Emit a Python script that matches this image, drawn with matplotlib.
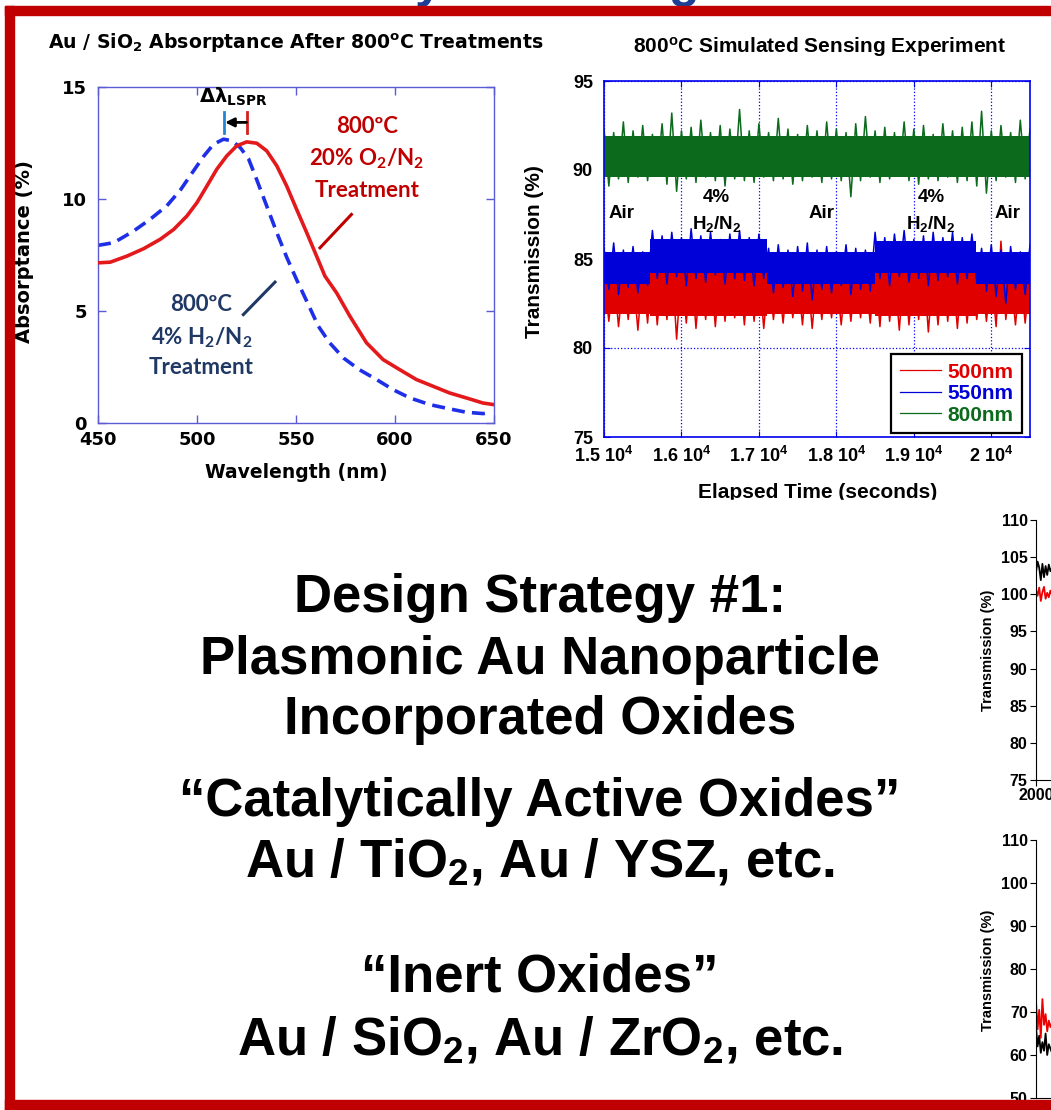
import numpy as np
import matplotlib
matplotlib.use('Agg')
import matplotlib.pyplot as plt
from matplotlib import font_manager
from matplotlib.patches import Rectangle

plt.rcParams['mathtext.default'] = 'regular'

W, H = 1051, 1110

# Au / SiO2 absorptance spectra after 800C treatments
wl_o2 = [450, 456.2, 464.6, 473, 481.4, 488.2, 494.9, 500, 505, 510, 515, 520, 525.1, 530.2,
         535.2, 540.3, 545.3, 550.3, 555.4, 560.4, 564.6, 570.5, 577.2, 585.6, 594, 602.4,
         610.8, 619.2, 627.6, 636, 644.5, 650]
abs_o2 = [7.15, 7.18, 7.45, 7.78, 8.2, 8.64, 9.24, 9.84, 10.58, 11.33, 11.92, 12.37, 12.55, 12.49,
          12.15, 11.48, 10.58, 9.54, 8.5, 7.45, 6.56, 5.81, 4.77, 3.58, 2.83, 2.38,
          1.94, 1.64, 1.34, 1.12, 0.89, 0.82]
wl_h2 = [450, 458, 468, 476.4, 484.8, 491.6, 498.2, 503.3, 508.3, 513.4, 517.6, 521.8, 526, 530,
         535.2, 540.3, 545.3, 550.3, 555.4, 561.3, 567, 574, 582, 590.7, 599, 607.5, 617.6,
         627.6, 636, 644.5, 648.7]
abs_h2 = [7.93, 8.05, 8.57, 9.1, 9.7, 10.4, 11.25, 11.9, 12.44, 12.67, 12.6, 12.3, 11.8, 10.9,
          9.69, 8.5, 7.4, 6.4, 5.44, 4.32, 3.58, 2.9, 2.38, 1.94, 1.49, 1.12, 0.82,
          0.63, 0.48, 0.42, 0.48]
wl_ticks = [450, 500, 550, 600, 650]
abs_ticks = [0, 5, 10, 15]

# 800C simulated sensing run (transmission %), readings every 125 s from 15000 s
seg_edges = [15000, 15600, 17100, 18500, 19800, 20500]
green_lo = [89.6, 89.6, 89.6, 89.6, 89.6]
green_hi = [91.9, 91.9, 91.9, 91.9, 91.9]
blue_lo = [83.6, 84.2, 83.6, 84.2, 83.6]
blue_hi = [85.4, 86.1, 85.4, 86.0, 85.4]
red_lo = [81.9, 81.8, 81.9, 81.8, 81.9]
red_hi = [83.8, 84.2, 83.8, 84.2, 83.8]

green_peak = [92.3, 92.1, 92.7, 92.2, 92.5, 92.0, 92.6, 93.2, 92.2, 92.4,
              92.8, 92.1, 92.5, 92.3, 93.4, 92.2, 92.6, 92.1, 92.9, 92.3,
              92.0, 92.5, 92.2, 92.7, 92.3, 92.1, 92.6, 93.0, 92.2, 92.4,
              92.1, 92.7, 92.3, 92.5, 92.0, 92.6, 92.2, 92.4, 92.7, 93.3,
              92.2, 92.5, 92.1, 92.8, 92.3]
green_trough = [89.1, 89.5, 89.3, 89.6, 89.4, 89.7, 89.2, 88.8, 89.5, 89.3,
                89.6, 89.4, 89.1, 89.5, 89.4, 89.3, 89.6, 89.4, 89.5, 89.2,
                89.4, 89.6, 89.3, 89.5, 89.4, 88.5, 89.4, 89.6, 89.3, 89.5,
                89.7, 89.4, 89.2, 89.5, 89.4, 89.6, 89.3, 89.4, 89.1, 88.7,
                89.4, 89.6, 89.3, 89.5, 88.5]
blue_peak = [85.6, 85.9, 85.5, 85.7, 85.4,
             86.6, 86.3, 86.5, 86.2, 86.7, 86.3, 86.5, 86.1, 86.4, 86.6, 86.2, 86.4,
             85.6, 85.8, 85.5, 85.7, 85.9, 85.5, 85.7, 85.4, 85.8, 85.6, 85.5,
             86.5, 86.2, 86.4, 86.6, 86.1, 86.3, 86.5, 86.2, 86.5, 86.2, 86.4,
             85.6, 85.8, 85.5, 85.7, 85.4, 85.8]
blue_trough = [83.3, 83.0, 83.4, 83.1, 83.5,
               83.9, 83.6, 84.0, 83.5, 83.9, 83.7, 84.1, 83.6, 83.9, 83.8, 83.5, 83.9,
               83.1, 83.4, 82.9, 83.2, 82.7, 83.3, 83.1, 83.5, 83.0, 83.3, 83.2,
               83.9, 83.5, 84.0, 83.7, 83.9, 83.5, 83.8, 84.0, 83.6, 83.9, 83.7,
               83.2, 82.9, 82.5, 83.3, 83.0, 83.1]
red_peak = [84.1, 84.3, 84.0, 84.2, 84.4,
            84.7, 84.4, 84.9, 84.5, 84.8, 84.4, 84.6, 84.5, 84.9, 84.4, 84.7, 84.5,
            84.2, 84.0, 84.3, 84.1, 84.5, 84.1, 84.3, 84.0, 84.2, 84.4, 84.1,
            84.6, 84.9, 84.4, 84.7, 84.5, 84.8, 84.4, 84.9, 84.5, 84.6, 84.4,
            84.1, 84.3, 86.0, 84.1, 84.3, 84.1]
red_trough = [81.5, 81.2, 81.6, 81.0, 81.4,
              81.3, 81.6, 80.5, 81.4, 81.1, 81.6, 81.2, 81.5, 81.7, 81.3, 81.5, 81.1,
              81.6, 81.4, 81.7, 81.3, 81.1, 81.6, 81.7, 81.3, 81.5, 81.7, 81.4,
              81.2, 81.5, 81.0, 81.3, 81.6, 80.9, 81.3, 81.5, 81.1, 81.4, 81.6,
              81.5, 81.2, 81.6, 81.3, 81.4, 81.6]
time_ticks = [15000, 16000, 17000, 18000, 19000, 20000]
time_labels = ['1.5', '1.6', '1.7', '1.8', '1.9', '2']
trans_ticks = [75, 80, 85, 90, 95]
series_names = ['500nm', '550nm', '800nm']

# edge of the next slide panels (cut off at the right)
small_t = [2000, 2040, 2080, 2120, 2160, 2200, 2240, 2280, 2320, 2360, 2400]
top_black = [103.0, 104.4, 103.6, 101.9, 104.1, 102.3, 103.8, 102.6, 104.0, 103.1, 103.6]
top_red = [100.6, 99.8, 100.9, 99.1, 100.3, 101.0, 99.4, 100.2, 99.6, 100.5, 99.9]
bot_red = [72.5, 66.0, 70.5, 64.0, 73.0, 67.0, 69.5, 65.5, 68.0, 66.5, 67.5]
bot_black = [66.5, 62.0, 64.5, 60.5, 63.0, 61.0, 65.0, 60.0, 62.5, 61.5, 60.5]

center_lines = ['Design Strategy #1:', 'Plasmonic Au Nanoparticle', 'Incorporated Oxides',
                '\u201cCatalytically Active Oxides\u201d', 'Au / TiO$_2$, Au / YSZ, etc.',
                '\u201cInert Oxides\u201d', 'Au / SiO$_2$, Au / ZrO$_2$, etc.']
center_y = [598, 660, 720, 802, 862, 978, 1040]


def pick(*names):
    for n in names:
        try:
            font_manager.findfont(n, fallback_to_default=False)
            return n
        except ValueError:
            pass
    return 'DejaVu Sans'


heavy = 'DejaVu Sans'
arial = pick('Liberation Sans', 'Arial')
calib = pick('Lato', 'Open Sans')


def box(l, t, r, b):
    return [l / W, 1 - b / H, (r - l) / W, (b - t) / H]


def ftext(x, y, s, **kw):
    return fig.text(x / W, 1 - y / H, s, **kw)


fig = plt.figure(figsize=(W / 100, H / 100), dpi=100)

# ---------------- left: absorptance ----------------
ax1 = fig.add_axes(box(98, 87, 494, 423))
ax1.plot(wl_o2, abs_o2, color='#e3191c', lw=2.6, zorder=3)
ax1.plot(wl_h2, abs_h2, color='#1e2fe8', lw=2.6, ls=(0, (3.6, 2.0)), zorder=2)
ax1.set_xlim(450, 650)
ax1.set_ylim(0, 15)
ax1.set_xticks(wl_ticks)
ax1.set_yticks(abs_ticks)
sp_col = '#5b5bd6'
for s in ax1.spines.values():
    s.set_color(sp_col)
    s.set_linewidth(1.0)
ax1.tick_params(direction='in', top=True, right=True, color=sp_col, length=6, width=1)
ax1.tick_params(axis='x', pad=6)
ax1.tick_params(axis='y', pad=8)
for lab in ax1.get_xticklabels() + ax1.get_yticklabels():
    lab.set_fontweight('bold')
    lab.set_fontsize(13)
    lab.set_family(heavy)

ax1.text(518.2, 14.55, '\u0394\u03bb$_{LSPR}$', ha='center', va='center', fontsize=14,
         weight='bold', family=heavy)
ax1.plot([513.7, 513.7], [12.94, 13.89], color='#1f86d6', lw=2)
ax1.plot([525.5, 525.5], [12.94, 13.89], color='#d42020', lw=2)
ax1.annotate('', xy=(514.2, 13.42), xytext=(525, 13.42),
             arrowprops=dict(arrowstyle='-|>', color='k', lw=2, mutation_scale=13,
                             shrinkA=0, shrinkB=0))

red_txt = '#c00000'
navy_txt = '#1f3864'
for yy, s in zip([13.25, 11.78, 10.39], ['800\u00baC', '20% O$_2$/N$_2$', 'Treatment']):
    ax1.text(585.9, yy, s, color=red_txt, ha='center', va='center', fontsize=16,
             weight='bold', family=calib)
for yy, s in zip([5.28, 3.81, 2.46], ['800\u00baC', '4% H$_2$/N$_2$', 'Treatment']):
    ax1.text(502.3, yy, s, color=navy_txt, ha='center', va='center', fontsize=16,
             weight='bold', family=calib)
ax1.plot([562.1, 578], [7.82, 9.31], color=red_txt, lw=2.2)
ax1.plot([523.4, 539.4], [4.84, 6.29], color=navy_txt, lw=2.2)

ftext(296, 43, 'Au / SiO$_2$ Absorptance After 800$^o$C Treatments', ha='center',
      va='center', fontsize=13.6, weight='bold', family=heavy)
ftext(25, 252, 'Absorptance (%)', ha='center', va='center', rotation=90, fontsize=14,
      weight='bold', family=heavy)
ftext(296, 472, 'Wavelength (nm)', ha='center', va='center', fontsize=13.5,
      weight='bold', family=heavy)

# ---------------- right: sensing experiment ----------------
ax2 = fig.add_axes(box(604, 81, 1030, 437))
t = np.arange(15000, 20501, 125)
cols = ['#e00000', '#0000d8', '#0b6a1c']
bands = [(red_lo, red_hi, red_peak, red_trough),
         (blue_lo, blue_hi, blue_peak, blue_trough),
         (green_lo, green_hi, green_peak, green_trough)]
for c, name, (lo, hi, pk, tr) in zip(cols, series_names, bands):
    ax2.stairs(hi, seg_edges, baseline=lo, fill=True, color=c, zorder=2)
    zx = np.column_stack([t, t + 62.5]).ravel()[:-1]
    zy = np.column_stack([pk, tr]).ravel()[:-1]
    ax2.plot(zx, zy, color=c, lw=1.1, label=name, zorder=2)

ax2.set_xlim(15000, 20500)
ax2.set_ylim(75, 95)
ax2.set_xticks(time_ticks)
ax2.set_xticklabels([v + ' 10$^4$' for v in time_labels])
ax2.set_yticks(trans_ticks)
ax2.grid(True, color='#0000ff', ls=':', lw=0.9, zorder=1)
ax2.set_axisbelow(True)
for s in ax2.spines.values():
    s.set_color('#0000ee')
    s.set_linewidth(1.2)
ax2.tick_params(direction='in', top=True, right=True, color='#0000ee', length=4)
ax2.tick_params(axis='x', pad=6.5)
ax2.tick_params(axis='y', pad=8)
for lab in ax2.get_xticklabels() + ax2.get_yticklabels():
    lab.set_fontweight('bold')
    lab.set_fontsize(13)
    lab.set_family(arial)

for xx in [15228, 17812, 20211]:
    ax2.text(xx, 87.55, 'Air', ha='center', va='center', fontsize=13.5, weight='bold',
             family=arial, zorder=4)
for xx in [16456, 19220]:
    ax2.text(xx, 88.48, '4%', ha='center', va='center', fontsize=13.5, weight='bold',
             family=arial, zorder=4)
    ax2.text(xx, 86.98, 'H$_2$/N$_2$', ha='center', va='center', fontsize=13.5,
             weight='bold', family=arial, zorder=4)

leg = ax2.legend(loc='lower right', bbox_to_anchor=(1022 / W, 1 - 433 / H),
                 bbox_transform=fig.transFigure, fancybox=False, edgecolor='k',
                 framealpha=1, borderaxespad=0, labelcolor='linecolor',
                 prop=dict(family=arial, weight='bold', size=15), handlelength=2.0,
                 handletextpad=0.3, labelspacing=0.12, borderpad=0.4)
leg.get_frame().set_linewidth(1.6)
for ln in leg.get_lines():
    ln.set_linewidth(0.9)
leg.set_zorder(5)

ftext(820, 47, '800$^o$C Simulated Sensing Experiment', ha='center', va='center',
      fontsize=15, weight='bold', family=arial)
ftext(535, 252, 'Transmission (%)', ha='center', va='center', rotation=90, fontsize=15,
      weight='bold', family=arial)
ftext(818, 492, 'Elapsed Time (seconds)', ha='center', va='center', fontsize=15,
      weight='bold', family=arial)
fig.add_artist(Rectangle((600 / W, 1 - 512 / H), 451 / W, 12 / H, transform=fig.transFigure,
                         color='white', zorder=6))

# ---------------- cut-off panels at right ----------------
ax3 = fig.add_axes(box(1036, 520, 1436, 780))
ax3.plot(small_t, top_black, color='k', lw=1.3)
ax3.plot(small_t, top_red, color='#ee0000', lw=1.3)
ax3.set_xlim(2000, 12000)
ax3.set_ylim(75, 110)
ax3.set_yticks(np.arange(75, 111, 5))
ax3.set_xticks([2000])
ax4 = fig.add_axes(box(1036, 840, 1436, 1098))
ax4.plot(small_t, bot_black, color='k', lw=1.3)
ax4.plot(small_t, bot_red, color='#ee0000', lw=1.3)
ax4.set_xlim(2000, 12000)
ax4.set_ylim(50, 110)
ax4.set_yticks(np.arange(50, 111, 10))
ax4.set_xticks([])
for ax, yc in [(ax3, 650), (ax4, 970)]:
    ax.spines['top'].set_visible(False)
    ax.spines['right'].set_visible(False)
    ax.tick_params(direction='out', length=4, pad=2, color='k')
    for lab in ax.get_xticklabels() + ax.get_yticklabels():
        lab.set_fontweight('bold')
        lab.set_fontsize(11.5)
        lab.set_family(arial)
    ftext(988, yc, 'Transmission (%)', ha='center', va='center', rotation=90,
          fontsize=10.5, weight='bold', family=arial)

# ---------------- slide text ----------------
for s, yy in zip(center_lines, center_y):
    ftext(540, yy, s, ha='center', va='center', fontsize=38, weight='bold', family=arial)

# clipped slide title descenders
ftext(428, -3, 'y', ha='center', va='baseline', fontsize=36, weight='bold',
      family=arial, color='#1c3f94')
ftext(684, -3, 'g', ha='center', va='baseline', fontsize=36, weight='bold',
      family=arial, color='#1c3f94')

# slide frame
red_frame = '#c00000'
fig.add_artist(Rectangle((5 / W, 1 - 15 / H), 1046 / W, 9 / H, transform=fig.transFigure,
                         color=red_frame, zorder=10))
fig.add_artist(Rectangle((5 / W, 0), 9 / W, 1 - 6 / H, transform=fig.transFigure,
                         color=red_frame, zorder=10))
fig.add_artist(Rectangle((5 / W, 0), 1046 / W, 10 / H, transform=fig.transFigure,
                         color=red_frame, zorder=10))

fig.savefig('out.png', dpi=100)
